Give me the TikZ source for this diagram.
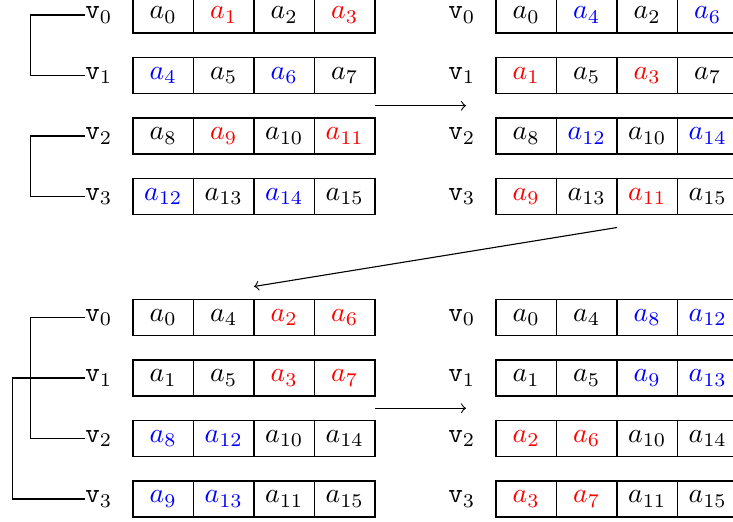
\documentclass[tikz,border=0pt]{standalone}
\usetikzlibrary{calc}
\tikzset{
  cell/.style={draw, minimum width=21.78pt, minimum height=12.96pt, inner sep=0pt, outer sep=0pt},
  vlab/.style={anchor=east, inner sep=0pt},
  link/.style={draw, line width=0.4pt},
  flow/.style={->, line width=0.4pt},
}
\newcommand\rd[1]{{\color{red}#1}}
\newcommand\bl[1]{{\color{blue}#1}}
% name, left x, y, v-index, four cell contents
\newcommand\mkrow[8]{%
  \node[cell] (#1-0) at (#2+30.25, #3) {$#5$};
  \node[cell] (#1-1) at (#2+90.75, #3) {$#6$};
  \node[cell] (#1-2) at (#2+151.25, #3) {$#7$};
  \node[cell] (#1-3) at (#2+211.75, #3) {$#8$};
  \node[vlab] (#1-v) at (#2-20, #3) {$\mathtt{v}_{#4}$};
}
\begin{document}
\begin{tikzpicture}[x=0.36pt, y=-0.36pt]
\useasboundingbox (0,0) rectangle (733,521);

% top-left block
\mkrow{tl0}{133}{15}{0}{a_0}{\rd{a_1}}{a_2}{\rd{a_3}}
\mkrow{tl1}{133}{75.5}{1}{\bl{a_4}}{a_5}{\bl{a_6}}{a_7}
\mkrow{tl2}{133}{136}{2}{a_8}{\rd{a_9}}{a_{10}}{\rd{a_{11}}}
\mkrow{tl3}{133}{196.5}{3}{\bl{a_{12}}}{a_{13}}{\bl{a_{14}}}{a_{15}}

% top-right block
\mkrow{tr0}{496}{15}{0}{a_0}{\bl{a_4}}{a_2}{\bl{a_6}}
\mkrow{tr1}{496}{75.5}{1}{\rd{a_1}}{a_5}{\rd{a_3}}{a_7}
\mkrow{tr2}{496}{136}{2}{a_8}{\bl{a_{12}}}{a_{10}}{\bl{a_{14}}}
\mkrow{tr3}{496}{196.5}{3}{\rd{a_9}}{a_{13}}{\rd{a_{11}}}{a_{15}}

% bottom-left block
\mkrow{bl0}{133}{317.5}{0}{a_0}{a_4}{\rd{a_2}}{\rd{a_6}}
\mkrow{bl1}{133}{378}{1}{a_1}{a_5}{\rd{a_3}}{\rd{a_7}}
\mkrow{bl2}{133}{438.5}{2}{\bl{a_8}}{\bl{a_{12}}}{a_{10}}{a_{14}}
\mkrow{bl3}{133}{499}{3}{\bl{a_9}}{\bl{a_{13}}}{a_{11}}{a_{15}}

% bottom-right block
\mkrow{br0}{496}{317.5}{0}{a_0}{a_4}{\bl{a_8}}{\bl{a_{12}}}
\mkrow{br1}{496}{378}{1}{a_1}{a_5}{\bl{a_9}}{\bl{a_{13}}}
\mkrow{br2}{496}{438.5}{2}{\rd{a_2}}{\rd{a_6}}{a_{10}}{a_{14}}
\mkrow{br3}{496}{499}{3}{\rd{a_3}}{\rd{a_7}}{a_{11}}{a_{15}}

% pairing brackets
\draw[link] (tl0-v.west) -- ++(-54,0) |- (tl1-v.west);
\draw[link] (tl2-v.west) -- ++(-54,0) |- (tl3-v.west);
\draw[link] (bl0-v.west) -- ++(-54,0) |- (bl2-v.west);
\draw[link] (bl1-v.west) -- ++(-72,0) |- (bl3-v.west);

% arrows
\coordinate (s1) at ($(tl1-3.south east)!0.5!(tl2-3.north east)$);
\coordinate (e1) at ($(s1)+(91,0)$);
\draw[flow] (s1) -- (e1);
\coordinate (s2) at ($(tr3-1.south east)+(0,13)$);
\coordinate (e2) at ($(bl0-1.north east)+(0,-13)$);
\draw[flow] (s2) -- (e2);
\coordinate (s3) at ($(bl1-3.south east)!0.5!(bl2-3.north east)$);
\coordinate (e3) at ($(s3)+(91,0)$);
\draw[flow] (s3) -- (e3);
\end{tikzpicture}
\end{document}
